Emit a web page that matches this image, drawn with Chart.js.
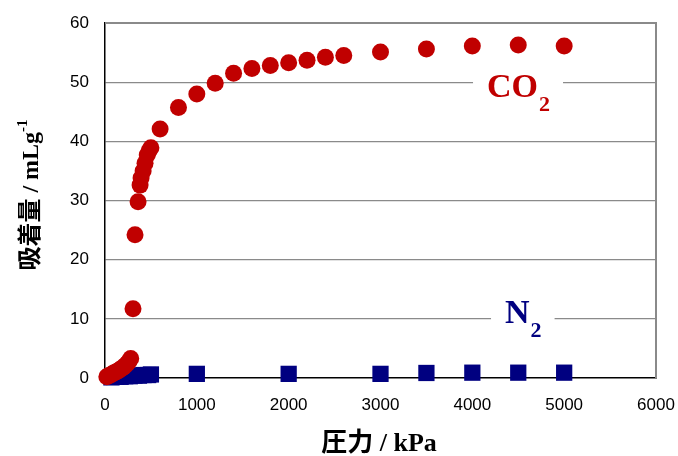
<!DOCTYPE html>
<html>
<head>
<meta charset="utf-8">
<script src="https://cdn.jsdelivr.net/npm/chart.js@4/dist/chart.umd.min.js"></script>
<style>
  html, body { margin: 0; padding: 0; background: #fff; }
  #wrap { width: 678px; height: 456px; }
</style>
</head>
<body>
<div id="wrap"><canvas id="chart" width="678" height="456"></canvas></div>
<script>
// pressure (kPa) and uptake (mL/g)
var co2Pressure = [20, 40, 60, 80, 100, 120, 140, 160, 180, 200, 220, 240, 260, 280,
  305, 327, 360, 382, 393, 415, 436, 460, 480, 500,
  600, 800, 1000, 1200, 1400, 1600, 1800, 2000, 2200, 2400, 2600,
  3000, 3500, 4000, 4500, 5000];
var co2Uptake = [0.2, 0.4, 0.5, 0.7, 0.9, 1.0, 1.2, 1.4, 1.6, 1.8, 2.1, 2.4, 2.8, 3.3,
  11.7, 24.2, 29.8, 32.6, 33.8, 35.0, 36.3, 37.7, 38.4, 38.9,
  42.1, 45.7, 48.0, 49.8, 51.5, 52.3, 52.8, 53.3, 53.7, 54.2, 54.5,
  55.1, 55.6, 56.1, 56.3, 56.1];

var n2Pressure = [70, 120, 170, 220, 270, 320, 370, 420, 470, 500, 1000, 2000, 3000, 3500, 4000, 4500, 5000];
var n2Uptake = [0.1, 0.2, 0.2, 0.3, 0.3, 0.4, 0.4, 0.5, 0.5, 0.6, 0.7, 0.7, 0.7, 0.85, 0.9, 0.9, 0.9];

var xTicks = [0, 1000, 2000, 3000, 4000, 5000, 6000];
var yTicks = [0, 10, 20, 30, 40, 50, 60];

var red = '#c00000';
var navy = '#000080';

function toPoints(xs, ys) {
  return xs.map(function(x, i) { return { x: x, y: ys[i] }; });
}

// series labels with a white box that breaks the gridline behind them
function drawSeriesLabel(ctx, main, sub, left, baseY, color) {
  ctx.save();
  ctx.font = 'bold 34px "Liberation Serif"';
  var w1 = ctx.measureText(main).width;
  ctx.font = 'bold 22px "Liberation Serif"';
  var w2 = ctx.measureText(sub).width;
  var total = w1 + w2;
  ctx.fillStyle = '#fff';
  ctx.fillRect(left - 14, baseY - 28, total + 28, 44);
  ctx.fillStyle = color;
  ctx.textBaseline = 'alphabetic';
  ctx.textAlign = 'left';
  ctx.font = 'bold 34px "Liberation Serif"';
  ctx.fillText(main, left, baseY);
  ctx.font = 'bold 22px "Liberation Serif"';
  ctx.fillText(sub, left + w1 + 1, baseY + 14);
  ctx.restore();
}

var decorPlugin = {
  id: 'decor',
  beforeDatasetsDraw: function(chart) {
    var ctx = chart.ctx;
    var a = chart.chartArea;
    var xs = chart.scales.x, ys = chart.scales.y;
    // grey frame on top and right
    ctx.save();
    ctx.strokeStyle = '#8a8a8a';
    ctx.lineWidth = 2;
    ctx.beginPath();
    ctx.moveTo(a.left, a.top);
    ctx.lineTo(a.right, a.top);
    ctx.lineTo(a.right, a.bottom);
    ctx.stroke();
    ctx.restore();

    drawSeriesLabel(ctx, 'CO', '2', xs.getPixelForValue(4160), ys.getPixelForValue(47.5), red);
    drawSeriesLabel(ctx, 'N', '2', xs.getPixelForValue(4356), ys.getPixelForValue(9.3), navy);
  },
  afterDraw: function(chart) {
    var ctx = chart.ctx;
    ctx.save();
    ctx.fillStyle = '#000';
    ctx.textBaseline = 'alphabetic';

    // x title: 圧力 / kPa
    var t1 = '圧力', t2 = ' / kPa';
    ctx.font = 'bold 26px "Noto Sans CJK JP"';
    var w1 = ctx.measureText(t1).width;
    ctx.font = 'bold 26px "Liberation Serif"';
    var w2 = ctx.measureText(t2).width;
    var x0 = 379 - (w1 + w2) / 2;
    ctx.font = 'bold 26px "Noto Sans CJK JP"';
    ctx.fillText(t1, x0, 451);
    ctx.font = 'bold 26px "Liberation Serif"';
    ctx.fillText(t2, x0 + w1, 451);

    // y title: 吸着量 / mLg-1
    var s1 = '吸着量', s2 = ' / mLg', s3 = '-1';
    ctx.font = 'bold 24px "Noto Sans CJK JP"';
    var v1 = ctx.measureText(s1).width;
    ctx.font = 'bold 24px "Liberation Serif"';
    var v2 = ctx.measureText(s2).width;
    ctx.font = 'bold 15px "Liberation Serif"';
    var v3 = ctx.measureText(s3).width;
    ctx.translate(38, 195);
    ctx.rotate(-Math.PI / 2);
    var y0 = -(v1 + v2 + v3) / 2;
    ctx.font = 'bold 24px "Noto Sans CJK JP"';
    ctx.fillText(s1, y0, 0);
    ctx.font = 'bold 24px "Liberation Serif"';
    ctx.fillText(s2, y0 + v1, 0);
    ctx.font = 'bold 15px "Liberation Serif"';
    ctx.fillText(s3, y0 + v1 + v2, -11);
    ctx.restore();
  }
};

var ctx = document.getElementById('chart').getContext('2d');
var chart = new Chart(ctx, {
  type: 'scatter',
  data: {
    datasets: [{
      label: 'CO2',
      data: toPoints(co2Pressure, co2Uptake),
      backgroundColor: red,
      borderColor: red,
      borderWidth: 0,
      pointStyle: 'circle',
      pointRadius: 8.5,
      clip: false
    }, {
      label: 'N2',
      data: toPoints(n2Pressure, n2Uptake),
      backgroundColor: navy,
      borderColor: navy,
      borderWidth: 0,
      pointStyle: 'rect',
      pointRadius: 11.5,
      clip: false
    }]
  },
  options: {
    responsive: false,
    animation: false,
    layout: { padding: { left: 0, right: 22, top: 23, bottom: 0 } },
    plugins: {
      legend: { display: false },
      tooltip: { enabled: false }
    },
    scales: {
      x: {
        type: 'linear',
        min: 0,
        max: 6000,
        afterBuildTicks: function(scale) {
          scale.ticks = xTicks.map(function(v) { return { value: v }; });
        },
        afterFit: function(scale) {
          scale.height = 78;
          scale.paddingLeft = 0;
          scale.paddingRight = 0;
        },
        grid: { display: false, drawTicks: false },
        border: { color: '#000', width: 1.5 },
        ticks: {
          padding: 17,
          color: '#000',
          maxRotation: 0,
          callback: function(v) { return String(v); },
          font: { family: '"Liberation Sans"', size: 17 }
        }
      },
      y: {
        type: 'linear',
        min: 0,
        max: 60,
        afterBuildTicks: function(scale) {
          scale.ticks = yTicks.map(function(v) { return { value: v }; });
        },
        afterFit: function(scale) {
          scale.width = 105;
          scale.paddingTop = 0;
          scale.paddingBottom = 0;
        },
        grid: {
          color: function(c) { return c.tick.value === 0 ? 'rgba(0,0,0,0)' : '#8a8a8a'; },
          lineWidth: 1.2,
          drawTicks: false
        },
        border: { color: '#000', width: 1.5 },
        ticks: {
          padding: 16,
          color: '#000',
          callback: function(v) { return String(v); },
          font: { family: '"Liberation Sans"', size: 17 }
        }
      }
    }
  },
  plugins: [decorPlugin]
});
</script>
</body>
</html>
